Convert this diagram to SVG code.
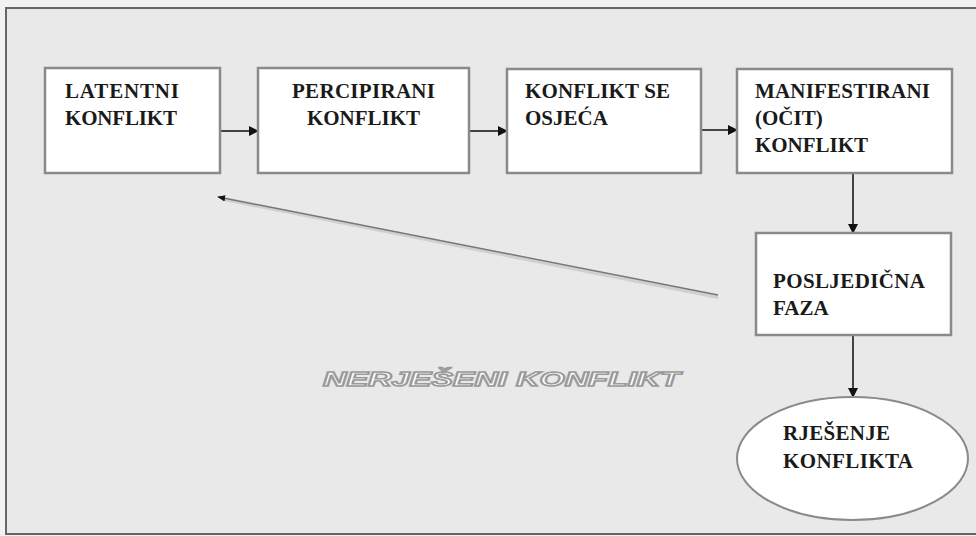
<svg xmlns="http://www.w3.org/2000/svg" width="976" height="536" viewBox="0 0 976 536">
<style>
.box{fill:#ffffff;stroke:#8a8a8a;stroke-width:2.5}
.t{font-family:"Liberation Serif","Times New Roman",serif;font-size:21px;font-weight:bold;fill:#1a1a1a}
.c{stroke:#444;stroke-width:2;fill:none}
.out{font-family:"Liberation Sans",Arial,sans-serif;font-size:21px;font-weight:bold;font-style:italic;fill:#ffffff;stroke:#9a9a9a;stroke-width:1.6}
</style>
<defs>
<marker id="ah" viewBox="0 0 10 10" refX="9" refY="5" markerWidth="5" markerHeight="5" orient="auto" markerUnits="strokeWidth">
<path d="M0,0 L10,5 L0,10 z" fill="#111"/>
</marker>
<marker id="ah2" viewBox="0 0 10 10" refX="9" refY="5" markerWidth="8" markerHeight="8" orient="auto" markerUnits="userSpaceOnUse">
<path d="M0,1 L10,5 L0,9 z" fill="#111"/>
</marker>
</defs>
<rect x="0" y="0" width="976" height="536" fill="#f2f2f2"/>
<rect x="6" y="8" width="980" height="526" fill="#e9e9e9" stroke="#666" stroke-width="2"/>
<g id="connectors">
<line class="c" x1="220" y1="131" x2="258" y2="131" marker-end="url(#ah)"/>
<line class="c" x1="469" y1="131" x2="507" y2="131" marker-end="url(#ah)"/>
<line class="c" x1="701" y1="130" x2="737" y2="130" marker-end="url(#ah)"/>
<line class="c" x1="853" y1="173" x2="853" y2="233" marker-end="url(#ah)"/>
<line class="c" x1="853" y1="335" x2="853" y2="397" marker-end="url(#ah)"/>
<line x1="718" y1="297" x2="224" y2="199" stroke="#d0d0d0" stroke-width="4"/>
<line x1="718" y1="295" x2="218" y2="197" stroke="#777" stroke-width="1.5" marker-end="url(#ah2)"/>
</g>
<g id="latentni">
<rect class="box" x="45" y="68" width="175" height="105"/>
<text class="t" x="65" y="98" textLength="114">LATENTNI</text>
<text class="t" x="65" y="125" textLength="112">KONFLIKT</text>
</g>
<g id="percipirani">
<rect class="box" x="258" y="68" width="211" height="105"/>
<text class="t" x="292" y="98" textLength="143">PERCIPIRANI</text>
<text class="t" x="307" y="125" textLength="113">KONFLIKT</text>
</g>
<g id="osjeca">
<rect class="box" x="507" y="69" width="194" height="104"/>
<text class="t" x="525" y="98" textLength="145">KONFLIKT SE</text>
<text class="t" x="525" y="125">OSJEĆA</text>
</g>
<g id="manifestirani">
<rect class="box" x="737" y="69" width="215" height="104"/>
<text class="t" x="755" y="98" textLength="175">MANIFESTIRANI</text>
<text class="t" x="755" y="125">(OČIT)</text>
<text class="t" x="755" y="152" textLength="113">KONFLIKT</text>
</g>
<g id="posljedicna">
<rect class="box" x="756" y="233" width="195" height="102"/>
<text class="t" x="773" y="288" textLength="152">POSLJEDIČNA</text>
<text class="t" x="773" y="315">FAZA</text>
</g>
<g id="rjesenje">
<ellipse cx="852.5" cy="458.5" rx="115.5" ry="61.5" fill="#ffffff" stroke="#8a8a8a" stroke-width="2"/>
<text class="t" x="783" y="440" textLength="107">RJEŠENJE</text>
<text class="t" x="783" y="468" textLength="130">KONFLIKTA</text>
</g>
<text class="out" x="323" y="386" textLength="357" lengthAdjust="spacingAndGlyphs">NERJEŠENI KONFLIKT</text>
</svg>
